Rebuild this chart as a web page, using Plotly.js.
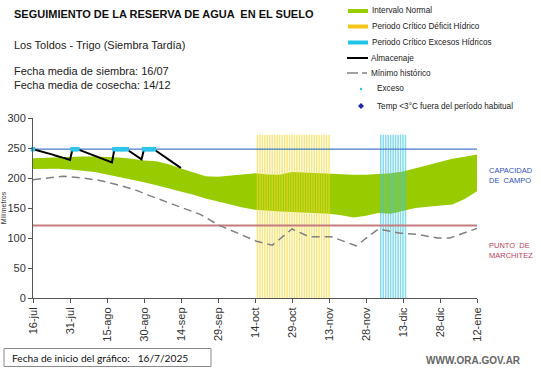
<!DOCTYPE html>
<html><head><meta charset="utf-8">
<script src="https://cdn.plot.ly/plotly-3.0.1.min.js"></script>
<style>body{margin:0;background:#fff}#chart{width:541px;height:368px}</style>
</head><body><div id="chart"></div>
<script>
// x values are days counted from 16/07/2025
const tickDays = [0,15,30,45,60,75,90,105,120,135,150,165,180];
const tickLabels = ["16-jul","31-jul","15-ago","30-ago","14-sep","29-sep","14-oct","29-oct","13-nov","28-nov","13-dic","28-dic","12-ene"];

// Intervalo normal (band)
const bandDays  = [0,5,10,15,20,25,30,35,40,45,50,55,60,65,70,75,80,85,90,95,100,105,110,115,120,125,130,135,140,145,150,155,160,165,170,175,180];
const bandUpper = [233,234,235,235.5,236,236,235.5,234,232,229,228,223,216,209,203,202,204,206.5,208,206,205.5,210,209,208,208,207,205.5,205.5,206.5,208,211,216,222,227,232,235.5,239];
const bandLower = [215,215.5,215.5,214,212,210,206,202,198,193,188,183,178,172,166,161,155,151,147,145,144,143.5,142.5,141.5,140.5,138,134,137,141.5,140.5,145,150,152,154,156,165,178];

// Mínimo histórico
const minDays   = [0,5,12,20,27,33,41,47,54,61,68,75,83,91,97,105,112,121,131,140,149,156,164,169,180];
const minValues = [197,199,203,200,196,190,181,171,160,150,139,122,108,94,88,115,102,102,87,115,108,106,100,100,116];

// Almacenaje (daily, from day 0)
const storageValues = [248,247,246,245,243.5,242,241,240,239,237.5,236,235,234,233,231.5,230,
  248,248,248,
  246.5,245,243.5,242,240.5,239,237,235.5,234,232.5,231,229,227.5,226,
  248,248,248,248,248,248,
  245,242,239.5,237,234,231,
  248,248,248,248,248,
  245,242,239.5,236.5,234,231,228,225,222.5,219.5,217];

// Exceso
const excessDays   = [0,16,17,18,33,34,35,36,37,38,45,46,47,48,49];
const excessValues = [248,248,248,248,248,248,248,248,248,248,248,248,248,248,248];

// Periodos críticos
const deficitDays = [91,92,93,94,95,96,97,98,99,100,101,102,103,104,105,106,107,108,109,110,111,112,113,114,115,116,117,118,119,120];
const excessPeriodDays = [141,142,143,144,145,146,147,148,149,150,151];
const periodTop = 272;

const fieldCapacity = 248;
const wiltingPoint = 121;

const storageDays = storageValues.map((_, i) => i);
const xEnds = [tickDays[0], tickDays[tickDays.length-1]];

const traces = [
  {x: bandDays, y: bandLower, type:'scatter', mode:'lines', line:{width:0, color:'#99cc00'}, hoverinfo:'skip', xaxis:'x', yaxis:'y'},
  {x: bandDays, y: bandUpper, type:'scatter', mode:'lines', fill:'tonexty', fillcolor:'#99cc00', line:{width:0, color:'#99cc00'}, name:'Intervalo Normal', xaxis:'x', yaxis:'y'},
  {x: deficitDays, y: deficitDays.map(() => periodTop), type:'bar', width:0.62, marker:{color:'rgba(242,216,50,0.62)', line:{width:0}}, name:'Periodo Crítico Déficit Hídrico', xaxis:'x', yaxis:'y2'},
  {x: excessPeriodDays, y: excessPeriodDays.map(() => periodTop), type:'bar', width:0.62, marker:{color:'rgba(60,195,228,0.62)', line:{width:0}}, name:'Periodo Crítico Excesos Hídricos', xaxis:'x', yaxis:'y2'},
  {x: xEnds, y: [fieldCapacity, fieldCapacity], type:'scatter', mode:'lines', line:{color:'#4a7bc8', width:1.2}, name:'Capacidad de campo', xaxis:'x', yaxis:'y2'},
  {x: xEnds, y: [wiltingPoint, wiltingPoint], type:'scatter', mode:'lines', line:{color:'#c47c80', width:2}, name:'Punto de marchitez', xaxis:'x', yaxis:'y2'},
  {x: minDays, y: minValues, type:'scatter', mode:'lines', line:{color:'#808080', width:1.5, dash:'8px,5px'}, name:'Mínimo histórico', xaxis:'x', yaxis:'y2'},
  {x: storageDays, y: storageValues, type:'scatter', mode:'lines', line:{color:'#000', width:2}, name:'Almacenaje', xaxis:'x', yaxis:'y2'},
  {x: excessDays, y: excessValues, type:'scatter', mode:'markers', marker:{color:'#2ec4ea', size:4.5, symbol:'square'}, cliponaxis:false, name:'Exceso', xaxis:'x', yaxis:'y2'}
];

// pixel -> paper helpers (plot area: x 33..477, y 298..118)
const L = 33, R = 477, T = 118, B = 298;
const px = X => (X - L) / (R - L);
const py = Y => (B - Y) / (B - T);

const ARIAL = 'Liberation Sans, Arial, sans-serif';
function txt(X, Y, text, size, color, opts) {
  return Object.assign({xref:'paper', yref:'paper', x:px(X), y:py(Y), text:text, showarrow:false,
    xanchor:'left', yanchor:'middle', font:{family:ARIAL, size:size, color:color}}, opts || {});
}

const annotations = [
  txt(12, 14, '<b>SEGUIMIENTO DE LA RESERVA DE AGUA  EN EL SUELO</b>', 11, '#111'),
  txt(12, 45, 'Los Toldos - Trigo (Siembra Tardía)', 11, '#222'),
  txt(12, 71, 'Fecha media de siembra: 16/07', 11, '#222'),
  txt(12, 85, 'Fecha media de cosecha: 14/12', 11, '#222'),
  txt(370, 11, 'Intervalo Normal', 8.2, '#222'),
  txt(370, 26.5, 'Periodo Crítico Déficit Hídrico', 8.2, '#222'),
  txt(370, 42.5, 'Periodo Crítico Excesos Hídricos', 8.2, '#222'),
  txt(369, 58, 'Almacenaje', 8.2, '#222'),
  txt(369, 73, 'Mínimo histórico', 8.2, '#222'),
  txt(375, 89, 'Exceso', 8.2, '#222'),
  txt(375, 106, 'Temp <3°C fuera del período habitual', 8.2, '#222'),
  txt(487, 175.5, 'CAPACIDAD<br>DE  CAMPO', 7.5, '#3050c0', {align:'left'}),
  txt(487, 250.5, 'PUNTO  DE<br>MARCHITEZ', 7.5, '#c0405a', {align:'left'}),
  txt(10, 357.5, 'Fecha de inicio del gráfico:   16/7/2025', 10.2, '#111', {font:{family:'Lato, sans-serif', size:10.2, color:'#111'}}),
  txt(424, 360, '<b>WWW.ORA.GOV.AR</b>', 10, '#666')
];

function seg(X0, X1, Y, color, width, dash) {
  return {type:'line', xref:'paper', yref:'paper', x0:px(X0), x1:px(X1), y0:py(Y), y1:py(Y),
    line:{color:color, width:width, dash:dash || 'solid'}};
}
const shapes = [
  seg(348, 368, 11, '#99cc00', 4),
  seg(348, 368, 26.5, '#f5c518', 4),
  seg(348, 368, 42.5, '#22c4e6', 4),
  seg(347, 368, 58, '#000', 2),
  seg(347, 358, 73, '#808080', 1.5),
  seg(362, 367, 73, '#808080', 1.5),
  {type:'circle', xref:'paper', yref:'paper', x0:px(359.8), x1:px(362.2), y0:py(87.8), y1:py(90.2), fillcolor:'#2ec4ea', line:{width:0}},
  {type:'path', xref:'paper', yref:'paper',
   path:`M ${px(361)} ${py(103)} L ${px(364)} ${py(106)} L ${px(361)} ${py(109)} L ${px(358)} ${py(106)} Z`,
   fillcolor:'#1a2aa0', line:{width:0}},
  {type:'rect', xref:'paper', yref:'paper', x0:px(4), x1:px(211), y0:py(348.5), y1:py(366.5), line:{color:'#8a8a8a', width:1}, fillcolor:'rgba(0,0,0,0)'}
];

const axisFont = {family:ARIAL, size:11, color:'#333'};
const layout = {
  width:541, height:368,
  margin:{l:L, r:541-R, t:T, b:368-B, pad:0},
  paper_bgcolor:'#fff', plot_bgcolor:'#fff',
  showlegend:false, barmode:'overlay',
  xaxis:{range:[0,180], tickmode:'array', tickvals:tickDays, ticktext:tickLabels, tickangle:-90,
    ticks:'outside', ticklen:4, tickcolor:'#555', showline:true, linecolor:'#555', linewidth:1,
    showgrid:false, zeroline:false, tickfont:axisFont, fixedrange:true},
  yaxis:{range:[0,300], tickmode:'linear', tick0:0, dtick:50, ticks:'outside', ticklen:4, tickcolor:'#555',
    showline:true, linecolor:'#555', linewidth:1, showgrid:false, zeroline:false, tickfont:axisFont,
    title:{text:'Milímetros', font:{family:ARIAL, size:7, color:'#333'}, standoff:3}, fixedrange:true},
  yaxis2:{range:[0,300], overlaying:'y', visible:false, fixedrange:true},
  annotations:annotations, shapes:shapes
};

Plotly.newPlot('chart', traces, layout, {displayModeBar:false, staticPlot:true});
</script></body></html>
